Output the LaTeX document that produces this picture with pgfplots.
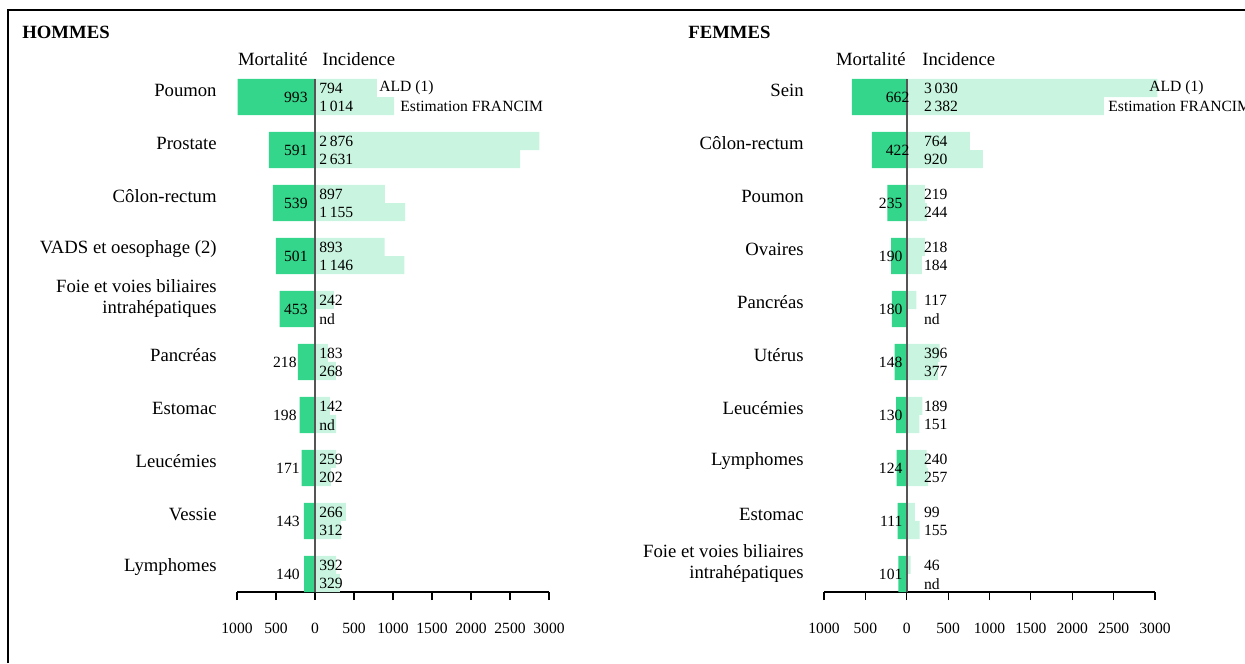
\documentclass[border=0pt]{standalone}
\usepackage{pgfplots}
\pgfplotsset{compat=1.18}
\usepackage{fontspec}
\setmainfont{Liberation Serif}

\definecolor{mort}{HTML}{33D68A}
\definecolor{inc}{HTML}{C9F5E0}
\definecolor{zeroline}{HTML}{555555}
\newcommand\nfont{\fontsize{9.35}{10.5}\selectfont}
\newcommand\sfnt{\fontsize{7.8}{9}\selectfont}

% one label node in axis coordinates
\newcommand\lab[4]{\node[anchor=#1,inner sep=0pt,font=\sfnt,yshift=-0.4pt] at (axis cs:#2,#3) {#4};}
\newcommand\cat[3]{\node[anchor=east,align=right,inner sep=0pt,font=\nfont,xshift=-10pt,yshift=#2] at (axis cs:-1000,#1) {#3};}

\pgfplotsset{
  panel/.style={
    scale only axis, height=256.5pt,
    xmin=-1000, xmax=3000, ymin=-9.34, ymax=0.34,
    axis y line=none, axis x line*=bottom,
    x axis line style={-, black, line width=0.6pt},
    xtick={-1000,-500,...,3000},
    xticklabels={1000,500,0,500,1000,1500,2000,2500,3000},
    tick align=outside, major tick length=4pt,
    every tick/.style={black, line width=0.6pt},
    xticklabel style={font=\sfnt, inner sep=0pt, anchor=north},
    xticklabel shift=11.5pt,
    ytick=\empty, clip=false,
  },
  mortbar/.style={xbar, bar shift=0pt, bar width=0.68, fill=mort, draw=none},
  incbar/.style={xbar, bar shift=0pt, bar width=0.34, fill=inc, draw=none},
}

\begin{document}
\begin{tikzpicture}
\path[use as bounding box] (0,0) rectangle (622.5pt,-331.5pt);
\draw[line width=1pt] (4pt,-331.5pt) -- (4pt,-5pt) -- (622.5pt,-5pt);

% ---------------- HOMMES
\begin{axis}[panel, width=156pt, at={(118.5pt,-296pt)}, anchor=south west]
  % Mortalite (drawn to the left)
  \addplot[mortbar] coordinates {
    (-993,0) (-591,-1) (-539,-2) (-501,-3) (-453,-4)
    (-218,-5) (-198,-6) (-171,-7) (-143,-8) (-140,-9)};
  % Incidence ALD (1)
  \addplot[incbar] coordinates {
    (794,0.17) (2876,-0.83) (897,-1.83) (893,-2.83) (242,-3.83)
    (165,-4.83) (190,-5.83) (270,-6.83) (397,-7.83) (270,-8.83)};
  % Incidence estimation FRANCIM
  \addplot[incbar] coordinates {
    (1014,-0.17) (2631,-1.17) (1155,-2.17) (1146,-3.17)
    (268,-5.17) (270,-6.17) (202,-7.17) (333,-8.17) (320,-9.17)};
  \draw[zeroline, line width=0.75pt] (axis cs:0,0.34) -- (axis cs:0,-9.34);

  \cat{0}{3.5pt}{Poumon}
  \cat{-1}{3.5pt}{Prostate}
  \cat{-2}{3.5pt}{Côlon-rectum}
  \cat{-3}{3.5pt}{VADS et oesophage (2)}
  \cat{-4}{5.25pt}{Foie et voies biliaires\\intrahépatiques}
  \cat{-5}{3.5pt}{Pancréas}
  \cat{-6}{3.5pt}{Estomac}
  \cat{-7}{3.5pt}{Leucémies}
  \cat{-8}{3.5pt}{Vessie}
  \cat{-9}{3.5pt}{Lymphomes}

  \lab{east}{-90}{0}{993}
  \lab{east}{-90}{-1}{591}
  \lab{east}{-90}{-2}{539}
  \lab{east}{-90}{-3}{501}
  \lab{east}{-90}{-4}{453}
  \lab{east}{-231}{-5}{218}
  \lab{east}{-231}{-6}{198}
  \lab{east}{-192}{-7}{171}
  \lab{east}{-192}{-8}{143}
  \lab{east}{-192}{-9}{140}

  \lab{west}{51}{0.17}{794}      \lab{west}{51}{-0.17}{1\,014}
  \lab{west}{51}{-0.83}{2\,876}  \lab{west}{51}{-1.17}{2\,631}
  \lab{west}{51}{-1.83}{897}     \lab{west}{51}{-2.17}{1\,155}
  \lab{west}{51}{-2.83}{893}     \lab{west}{51}{-3.17}{1\,146}
  \lab{west}{51}{-3.83}{242}     \lab{west}{51}{-4.17}{nd}
  \lab{west}{51}{-4.83}{183}     \lab{west}{51}{-5.17}{268}
  \lab{west}{51}{-5.83}{142}     \lab{west}{51}{-6.17}{nd}
  \lab{west}{51}{-6.83}{259}     \lab{west}{51}{-7.17}{202}
  \lab{west}{51}{-7.83}{266}     \lab{west}{51}{-8.17}{312}
  \lab{west}{51}{-8.83}{392}     \lab{west}{51}{-9.17}{329}
\end{axis}

% ---------------- FEMMES
\begin{axis}[panel, width=165.5pt, at={(412pt,-296pt)}, anchor=south west]
  \addplot[mortbar] coordinates {
    (-662,0) (-422,-1) (-235,-2) (-190,-3) (-180,-4)
    (-148,-5) (-130,-6) (-124,-7) (-111,-8) (-101,-9)};
  \addplot[incbar] coordinates {
    (3030,0.17) (764,-0.83) (219,-1.83) (218,-2.83) (117,-3.83)
    (396,-4.83) (189,-5.83) (240,-6.83) (99,-7.83) (46,-8.83)};
  \addplot[incbar] coordinates {
    (2382,-0.17) (920,-1.17) (244,-2.17) (184,-3.17)
    (377,-5.17) (151,-6.17) (257,-7.17) (155,-8.17)};
  \draw[zeroline, line width=0.75pt] (axis cs:0,0.34) -- (axis cs:0,-9.34);

  \cat{0}{3.5pt}{Sein}
  \cat{-1}{3.5pt}{Côlon-rectum}
  \cat{-2}{3.5pt}{Poumon}
  \cat{-3}{3.5pt}{Ovaires}
  \cat{-4}{3.5pt}{Pancréas}
  \cat{-5}{3.5pt}{Utérus}
  \cat{-6}{3.5pt}{Leucémies}
  \cat{-7}{3.5pt}{Lymphomes}
  \cat{-8}{3.5pt}{Estomac}
  \cat{-9}{5.25pt}{Foie et voies biliaires\\intrahépatiques}

  \lab{east}{36}{0}{662}
  \lab{east}{36}{-1}{422}
  \lab{east}{-48}{-2}{235}
  \lab{east}{-48}{-3}{190}
  \lab{east}{-48}{-4}{180}
  \lab{east}{-48}{-5}{148}
  \lab{east}{-48}{-6}{130}
  \lab{east}{-48}{-7}{124}
  \lab{east}{-48}{-8}{111}
  \lab{east}{-48}{-9}{101}

  \lab{west}{205}{0.17}{3\,030}  \lab{west}{205}{-0.17}{2\,382}
  \lab{west}{205}{-0.83}{764}    \lab{west}{205}{-1.17}{920}
  \lab{west}{205}{-1.83}{219}    \lab{west}{205}{-2.17}{244}
  \lab{west}{205}{-2.83}{218}    \lab{west}{205}{-3.17}{184}
  \lab{west}{205}{-3.83}{117}    \lab{west}{205}{-4.17}{nd}
  \lab{west}{205}{-4.83}{396}    \lab{west}{205}{-5.17}{377}
  \lab{west}{205}{-5.83}{189}    \lab{west}{205}{-6.17}{151}
  \lab{west}{205}{-6.83}{240}    \lab{west}{205}{-7.17}{257}
  \lab{west}{205}{-7.83}{99}     \lab{west}{205}{-8.17}{155}
  \lab{west}{205}{-8.83}{46}     \lab{west}{205}{-9.17}{nd}
\end{axis}

% ---------------- titles and legends (pixel grid, y downwards)
\begin{scope}[x=0.5pt, y=-0.5pt, every node/.style={inner sep=0pt}]
  \node[anchor=west, font=\nfont\bfseries] at (22,32) {HOMMES};
  \node[anchor=west, font=\nfont\bfseries] at (688,32) {FEMMES};
  \node[anchor=east, font=\nfont] at (308,59) {Mortalité};
  \node[anchor=west, font=\nfont] at (322,59) {Incidence};
  \node[anchor=east, font=\nfont] at (906,59) {Mortalité};
  \node[anchor=west, font=\nfont] at (922,59) {Incidence};
  \node[anchor=west, font=\sfnt] at (379,88) {ALD (1)};
  \node[anchor=west, font=\sfnt] at (400,106) {Estimation FRANCIM};
  \node[anchor=west, font=\sfnt] at (1149,88) {ALD (1)};
  \node[anchor=west, font=\sfnt] at (1108,106) {Estimation FRANCIM};
\end{scope}
\end{tikzpicture}
\end{document}
